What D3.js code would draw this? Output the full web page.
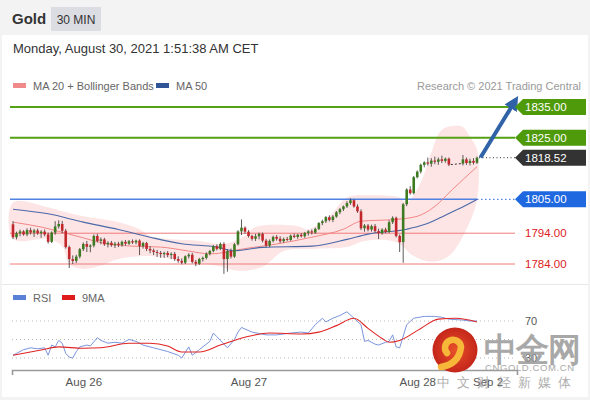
<!DOCTYPE html>
<html>
<head>
<meta charset="utf-8">
<script src="https://cdn.jsdelivr.net/npm/d3@7"></script>
<style>
    body { margin: 0; background: #fff; }
    svg text { font-family: "Liberation Sans", Arial, sans-serif; }
</style>
</head>
<body>
<svg id="chart" width="590" height="400"></svg>
<script>
'use strict';

// half-hour candles [open, high, low, close]; null = no trading
var candles = [
    [1796.9, 1797.9, 1792.1, 1792.7], [1792.7, 1794.5, 1792.0, 1794.0], [1794.0, 1795.2, 1793.0, 1794.6],
    [1794.6, 1795.0, 1793.2, 1793.6], [1793.6, 1795.6, 1793.0, 1795.0], [1795.0, 1795.8, 1793.6, 1794.2],
    [1794.2, 1795.4, 1792.8, 1794.9], [1794.9, 1795.5, 1793.5, 1794.0], [1794.0, 1795.0, 1792.5, 1794.5],
    [1794.5, 1795.2, 1793.0, 1793.6], [1793.6, 1794.2, 1790.6, 1791.2], [1791.2, 1794.6, 1790.8, 1794.2],
    [1794.2, 1797.9, 1793.5, 1796.2], [1796.2, 1798.2, 1795.5, 1797.0], [1797.0, 1798.0, 1794.0, 1794.8],
    [1794.8, 1795.4, 1789.0, 1789.5], [1789.5, 1790.0, 1782.7, 1785.6], [1785.6, 1786.8, 1784.0, 1785.0],
    [1785.0, 1787.0, 1784.3, 1786.4], [1786.4, 1789.2, 1785.8, 1788.8], [1788.8, 1791.0, 1788.2, 1790.5],
    [1790.5, 1791.5, 1787.9, 1789.6], [1789.6, 1790.4, 1787.8, 1790.0], [1790.0, 1793.6, 1789.4, 1793.1],
    [1793.1, 1793.8, 1791.0, 1791.5], [1791.5, 1792.6, 1790.4, 1792.0], [1792.0, 1792.5, 1789.9, 1790.4],
    [1790.4, 1791.4, 1789.4, 1790.9], [1790.9, 1791.5, 1789.6, 1790.1], [1790.1, 1791.2, 1789.2, 1790.6],
    [1790.6, 1791.2, 1789.5, 1790.2], [1790.2, 1791.6, 1789.6, 1791.2], [1791.2, 1791.8, 1790.0, 1790.6],
    [1790.6, 1791.8, 1790.2, 1791.4], [1791.4, 1792.0, 1790.5, 1791.0], [1791.0, 1791.9, 1790.4, 1791.6],
    [1791.6, 1792.0, 1786.9, 1789.8], [1789.8, 1791.2, 1789.0, 1790.8], [1790.8, 1791.2, 1788.2, 1788.9],
    [1788.9, 1789.8, 1787.5, 1788.4], [1788.4, 1789.0, 1786.9, 1787.9], [1787.9, 1788.6, 1786.3, 1787.6],
    [1787.6, 1788.2, 1786.0, 1787.2], [1787.2, 1788.0, 1786.0, 1787.6], [1787.6, 1788.2, 1786.2, 1786.9],
    [1786.9, 1787.8, 1785.6, 1787.3], [1787.3, 1787.9, 1785.0, 1785.6], [1785.6, 1786.5, 1784.4, 1785.0],
    [1785.0, 1785.8, 1783.9, 1784.4], [1784.4, 1786.8, 1784.0, 1786.5], [1786.5, 1787.5, 1785.8, 1787.0],
    [1787.0, 1787.6, 1784.2, 1784.7], [1784.7, 1785.3, 1783.3, 1784.1], [1784.1, 1786.0, 1783.7, 1785.6],
    [1785.6, 1786.4, 1784.8, 1786.0], [1786.0, 1787.8, 1785.5, 1787.3], [1787.3, 1788.6, 1786.8, 1788.2],
    [1788.2, 1790.2, 1787.8, 1789.8], [1789.8, 1790.4, 1788.4, 1788.9], [1788.9, 1791.0, 1788.5, 1790.5],
    [1790.5, 1791.1, 1780.8, 1785.6], [1785.6, 1788.8, 1781.5, 1788.2], [1788.2, 1789.0, 1785.8, 1786.4],
    [1786.4, 1790.8, 1786.0, 1790.4], [1790.4, 1795.0, 1790.0, 1794.6], [1794.6, 1798.5, 1793.4, 1795.8],
    [1795.8, 1796.2, 1793.8, 1794.5], [1794.5, 1795.0, 1792.6, 1793.1], [1793.1, 1793.5, 1791.6, 1792.2],
    [1792.2, 1793.8, 1791.5, 1793.0], [1793.0, 1794.2, 1792.0, 1793.8], [1793.8, 1794.2, 1791.0, 1791.6],
    [1791.6, 1792.2, 1789.4, 1790.0], [1790.0, 1792.0, 1789.5, 1791.5], [1791.5, 1793.2, 1791.0, 1792.8],
    [1792.8, 1793.4, 1791.6, 1792.2], [1792.2, 1793.0, 1790.8, 1791.4], [1791.4, 1792.6, 1790.9, 1792.1],
    [1792.1, 1792.8, 1791.4, 1791.8], [1791.8, 1793.6, 1791.5, 1793.2], [1793.2, 1793.9, 1792.4, 1792.8],
    [1792.8, 1793.8, 1792.2, 1793.5], [1793.5, 1794.0, 1792.6, 1793.0], [1793.0, 1794.4, 1792.5, 1794.1],
    [1794.1, 1795.0, 1793.2, 1794.6], [1794.6, 1795.2, 1793.6, 1794.2], [1794.2, 1795.8, 1793.8, 1795.4],
    [1795.4, 1797.6, 1795.0, 1797.3], [1797.3, 1798.4, 1796.6, 1797.9], [1797.9, 1799.6, 1797.3, 1799.2],
    [1799.2, 1799.8, 1797.8, 1798.3], [1798.3, 1799.9, 1797.6, 1799.4], [1799.4, 1801.2, 1799.0, 1800.8],
    [1800.8, 1802.2, 1800.2, 1801.8], [1801.8, 1803.0, 1801.2, 1802.7], [1802.7, 1804.4, 1802.2, 1803.8],
    [1803.8, 1805.3, 1803.2, 1804.7], [1804.7, 1805.0, 1802.3, 1802.7], [1802.7, 1803.4, 1800.6, 1801.1],
    [1801.1, 1801.8, 1795.0, 1795.6], [1795.6, 1797.0, 1794.5, 1796.5], [1796.5, 1797.0, 1794.6, 1795.2],
    [1795.2, 1796.8, 1794.5, 1796.3], [1796.3, 1797.0, 1794.2, 1794.7], [1794.7, 1795.5, 1792.1, 1794.0],
    [1794.0, 1795.6, 1793.5, 1795.2], [1795.2, 1795.8, 1794.0, 1794.4], [1794.4, 1798.2, 1794.0, 1797.6],
    [1797.6, 1799.5, 1797.0, 1799.0], [1799.0, 1799.4, 1792.6, 1793.1], [1793.1, 1793.6, 1787.9, 1791.1],
    [1791.1, 1803.8, 1784.4, 1803.4], [1803.4, 1808.6, 1802.8, 1808.2], [1808.2, 1809.3, 1806.5, 1807.0],
    [1807.0, 1812.6, 1806.6, 1812.2], [1812.2, 1814.4, 1811.8, 1814.0], [1814.0, 1816.6, 1813.4, 1816.2],
    [1816.2, 1817.4, 1815.4, 1817.0], [1817.0, 1818.6, 1816.0, 1816.6], [1816.6, 1818.4, 1815.6, 1817.6],
    [1817.6, 1818.9, 1816.4, 1817.2], [1817.2, 1818.6, 1816.2, 1818.0], [1818.0, 1819.2, 1816.8, 1817.5],
    [1817.5, 1818.6, 1816.9, 1818.2], [1818.2, 1818.6, 1815.8, 1816.3],
    null, null, null,
    [1816.6, 1819.4, 1816.0, 1818.0], [1818.0, 1818.6, 1816.2, 1816.8], [1816.8, 1818.2, 1816.0, 1817.5],
    [1817.5, 1818.4, 1816.3, 1816.9], [1816.9, 1818.9, 1816.5, 1818.52]
];

// indicator readings [bar index, value]
var ma20 = [[0, 1797.6], [8, 1796.0], [18, 1793.1], [27, 1790.5], [34, 1789.8], [42, 1789.5], [50, 1788.2],
    [56, 1787.3], [61, 1787.9], [64, 1788.6], [75, 1790.5], [85, 1792.7], [94, 1795.3], [99, 1797.9],
    [109, 1798.5], [115, 1799.5], [120, 1802.7], [125, 1808.2], [132, 1815.6]];
var ma50 = [[0, 1801.8], [10, 1800.3], [20, 1797.6], [30, 1795.2], [39, 1792.7], [48, 1790.6], [58, 1789.5],
    [63, 1788.3], [71, 1789.4], [85, 1789.8], [95, 1792.0], [101, 1793.7], [112, 1795.3], [117, 1796.8],
    [122, 1799.3], [127, 1802.0], [132, 1805.0]];
var bbUpper = [[0, 1804.0], [10, 1802.4], [14, 1801.1], [20, 1799.5], [30, 1797.6], [36, 1795.3], [39, 1793.1],
    [44, 1792.1], [53, 1791.5], [59, 1790.5], [62, 1791.1], [66, 1793.1], [69, 1796.0], [81, 1796.3],
    [84, 1795.3], [90, 1799.5], [95, 1805.6], [101, 1806.3], [110, 1805.6], [112, 1804.0], [116, 1810.5],
    [119, 1820.2], [122, 1827.6], [126, 1828.9], [128, 1828.5], [130, 1825.3], [132, 1821.1]];
var bbLower = [[0, 1792.1], [10, 1792.1], [14, 1789.8], [16, 1784.0], [20, 1782.4], [25, 1783.4], [30, 1785.6],
    [39, 1786.6], [48, 1785.0], [58, 1783.4], [64, 1781.8], [71, 1783.1], [77, 1788.2], [85, 1788.9],
    [95, 1789.5], [100, 1791.5], [109, 1791.1], [114, 1786.6], [119, 1784.7], [124, 1786.6], [129, 1795.3],
    [132, 1805.0]];
var rsi = [[0, 33], [1, 35], [3, 39], [5, 41], [7, 40], [9, 41], [10, 33], [11, 44], [12, 42], [13, 49], [14, 46],
    [15, 35], [16, 31], [17, 30], [18, 37], [19, 42], [21, 44], [22, 43], [24, 52], [25, 49], [27, 46], [29, 47],
    [31, 46], [33, 50], [35, 48], [37, 44], [40, 41], [44, 37], [47, 33], [48, 30], [50, 42], [51, 33], [53, 39],
    [56, 48], [57, 57], [58, 53], [59, 49], [61, 41], [63, 50], [64, 58], [65, 63], [68, 58], [72, 55], [75, 55],
    [79, 57], [82, 58], [84, 57], [86, 66], [88, 73], [89, 69], [91, 73], [93, 76], [95, 80], [97, 73], [99, 66],
    [100, 48], [101, 49], [103, 45], [104, 44], [106, 47], [107, 48], [108, 55], [109, 42], [110, 41], [112, 66],
    [114, 73], [117, 75], [120, 75], [122, 74], [124, 72], [128, 71], [130, 70], [132, 70]];
var rsiMa = [[0, 33], [8, 38.6], [13, 42], [20, 40.5], [25, 41], [33, 46], [39, 46], [44, 43], [48, 36.5],
    [53, 36.5], [59, 44], [66, 52.5], [73, 57], [82, 56], [87, 58], [92, 65], [97, 73], [101, 62], [105, 51],
    [107, 47], [110, 49], [116, 62], [121, 72], [126, 73], [132, 69]];

// key levels
var levelValues = [1835, 1825, 1818.52, 1805, 1794, 1784];
var levelKinds = ['target', 'target', 'last', 'pivot', 'support', 'support'];
var rsiLevels = [70, 50, 30];
var rsiLabels = [70, 30];

// x axis
var tickBars = [20, 67, 115, 135];
var tickLabels = ['Aug 26', 'Aug 27', 'Aug 28', 'Sep 2'];

// forecast arrow [bar index, price]
var arrowPts = [[133, 1818.6], [142, 1835.4]];

var svg = d3.select('#chart');

var x = d3.scaleLinear().domain([0, 132]).range([13, 477]);
var y = d3.scaleLinear().domain([1784, 1835]).range([264, 107]);
var yr = d3.scaleLinear().domain([30, 70]).range([358, 321]);

var upCol = '#3d7b22', downCol = '#c3262b';

//frame
svg.append('rect').attr('width', 590).attr('height', 400).attr('fill', '#f3f3f4');
svg.append('rect').attr('x', 2).attr('y', 35).attr('width', 586).attr('height', 362).attr('fill', '#fff');
svg.append('line').attr('x1', 2).attr('x2', 588).attr('y1', 284.5).attr('y2', 284.5)
    .attr('stroke', '#e8e8e8');

//header
svg.append('text').attr('x', 12).attr('y', 24).attr('font-size', 15).attr('font-weight', 'bold')
    .attr('fill', '#333').text('Gold');
svg.append('rect').attr('x', 51).attr('y', 7).attr('width', 50).attr('height', 24).attr('fill', '#dcdde2');
svg.append('text').attr('x', 76).attr('y', 24).attr('text-anchor', 'middle').attr('font-size', 12)
    .attr('fill', '#333').text('30 MIN');
svg.append('text').attr('x', 13).attr('y', 53).attr('font-size', 13).attr('fill', '#333')
    .text('Monday, August 30, 2021 1:51:38 AM CET');

//legends
function legendItem(x0, y0, col, label) {
    svg.append('rect').attr('x', x0).attr('y', y0 - 3).attr('width', 13).attr('height', 5).attr('fill', col);
    svg.append('text').attr('x', x0 + 20).attr('y', y0 + 4).attr('font-size', 11).attr('fill', '#666').text(label);
}
legendItem(13, 86, '#f08a8a', 'MA 20 + Bollinger Bands');
legendItem(156, 86, '#2f5597', 'MA 50');
legendItem(13, 298, '#5b80d8', 'RSI');
legendItem(62, 298, '#e01b1b', '9MA');
svg.append('text').attr('x', 581).attr('y', 90).attr('text-anchor', 'end').attr('font-size', 11)
    .attr('fill', '#9a9a9a').text('Research \u00a9 2021 Trading Central');

//bollinger band as one closed outline
var band = bbUpper.concat(bbLower.slice().reverse());
svg.append('path')
    .attr('d', d3.line().x(function (d) { return x(d[0]); }).y(function (d) { return y(d[1]); })
        .curve(d3.curveCatmullRomClosed.alpha(0.5))(band))
    .attr('fill', '#fde2e2').attr('opacity', 0.9);

//level lines
var levelStyle = {
    target: {stroke: '#55a014', width: 2},
    last: {stroke: 'none', width: 0},
    pivot: {stroke: '#4f82e3', width: 1.5},
    support: {stroke: '#f07a7a', width: 1}
};
levelValues.forEach(function (v, i) {
    var st = levelStyle[levelKinds[i]];
    if (st.stroke === 'none') return;
    svg.append('line').attr('x1', 10).attr('x2', levelKinds[i] === 'pivot' ? x(132) : 515)
        .attr('y1', y(v)).attr('y2', y(v)).attr('stroke', st.stroke).attr('stroke-width', st.width);
    if (levelKinds[i] === 'pivot') {
        svg.append('line').attr('x1', x(132)).attr('x2', 515).attr('y1', y(v)).attr('y2', y(v))
            .attr('stroke', st.stroke).attr('stroke-width', 1.2).attr('stroke-dasharray', '1.5,2.5');
    }
});

//moving averages
function lineGen(sc) {
    return d3.line().x(function (d) { return x(d[0]); }).y(function (d) { return sc(d[1]); });
}
svg.append('path').attr('d', lineGen(y).curve(d3.curveMonotoneX)(ma20))
    .attr('fill', 'none').attr('stroke', '#f07a7a').attr('stroke-width', 0.9);
svg.append('path').attr('d', lineGen(y).curve(d3.curveMonotoneX)(ma50))
    .attr('fill', 'none').attr('stroke', '#4a68a8').attr('stroke-width', 1.1);

//candles
var bars = candles.map(function (c, i) { return c ? {i: i, o: c[0], h: c[1], l: c[2], c: c[3]} : null; })
    .filter(Boolean);
var g = svg.append('g');
g.selectAll('line.wick').data(bars).enter().append('line').attr('class', 'wick')
    .attr('x1', function (d) { return x(d.i); }).attr('x2', function (d) { return x(d.i); })
    .attr('y1', function (d) { return y(d.h); }).attr('y2', function (d) { return y(d.l); })
    .attr('stroke', '#333').attr('stroke-width', 0.8);
g.selectAll('rect').data(bars).enter().append('rect')
    .attr('x', function (d) { return x(d.i) - 1.3; }).attr('width', 2.6)
    .attr('y', function (d) { return y(Math.max(d.o, d.c)); })
    .attr('height', function (d) { return Math.max(0.8, Math.abs(y(d.o) - y(d.c))); })
    .attr('fill', function (d) { return d.c >= d.o ? upCol : downCol; });

//market closed gap
var gapStart = bars.filter(function (d) { return d.i < 125; }).pop();
var gapEnd = bars.filter(function (d) { return d.i > 127; })[0];
svg.append('line').attr('x1', x(gapStart.i) + 2).attr('x2', x(gapEnd.i) - 2)
    .attr('y1', y(gapStart.c)).attr('y2', y(gapEnd.o))
    .attr('stroke', '#333').attr('stroke-dasharray', '2,2');

//last price dotted
var last = bars[bars.length - 1];
svg.append('line').attr('x1', x(last.i) + 2).attr('x2', 515).attr('y1', y(last.c)).attr('y2', y(last.c))
    .attr('stroke', '#333').attr('stroke-dasharray', '1,2.5');

//arrow
svg.append('line').attr('x1', x(arrowPts[0][0])).attr('y1', y(arrowPts[0][1]))
    .attr('x2', x(arrowPts[1][0])).attr('y2', y(arrowPts[1][1]))
    .attr('stroke', '#2f62a6').attr('stroke-width', 4).attr('stroke-linecap', 'butt')
    .attr('marker-end', 'url(#head)');
svg.append('defs').append('marker').attr('id', 'head').attr('viewBox', '0 0 10 10')
    .attr('refX', 2).attr('refY', 5).attr('markerWidth', 3.6).attr('markerHeight', 3.6)
    .attr('orient', 'auto').append('path').attr('d', 'M0,0L10,5L0,10Z').attr('fill', '#2f62a6');

//level tags
var tagFill = {target: '#4f9a0b', last: '#333', pivot: '#1f68e0'};
levelValues.forEach(function (v, i) {
    var k = levelKinds[i], cy = y(v);
    var label = v.toFixed(2);
    if (tagFill[k]) {
        svg.append('path').attr('d', 'M515,' + cy + 'L523,' + (cy - 8) + 'H586V' + (cy + 8) + 'H523Z')
            .attr('fill', tagFill[k]);
        svg.append('text').attr('x', 525).attr('y', cy + 4).attr('font-size', 11.5).attr('fill', '#fff').text(label);
    } else {
        svg.append('text').attr('x', 525).attr('y', cy + 4).attr('font-size', 11.5).attr('fill', '#d22').text(label);
    }
});

//rsi panel
rsiLevels.forEach(function (v) {
    svg.append('line').attr('x1', 12).attr('x2', 515).attr('y1', yr(v)).attr('y2', yr(v))
        .attr('stroke', '#bbb').attr('stroke-dasharray', '1,3');
});
rsiLabels.forEach(function (v) {
    svg.append('text').attr('x', 525).attr('y', yr(v) + 4).attr('font-size', 11).attr('fill', '#555').text(v);
});
svg.append('path').attr('d', lineGen(yr)(rsi))
    .attr('fill', 'none').attr('stroke', '#7b95de').attr('stroke-width', 1);
svg.append('path').attr('d', lineGen(yr).curve(d3.curveMonotoneX)(rsiMa))
    .attr('fill', 'none').attr('stroke', '#e02424').attr('stroke-width', 1.1);

//time axis
var xa = x.copy().domain([x.invert(12), x.invert(517)]).range([12, 517]);
var axis = svg.append('g').attr('transform', 'translate(0,370)')
    .call(d3.axisBottom(xa).tickValues(tickBars).tickSize(0).tickSizeOuter(5)
        .tickFormat(function (d, i) { return tickLabels[i]; }));
axis.select('.domain').attr('stroke', '#9a9a9a').attr('stroke-width', 1.6);
axis.selectAll('text').attr('dy', 0).attr('y', 16).attr('font-size', 11.5).attr('fill', '#555')
    .attr('font-family', '"Liberation Sans", Arial, sans-serif');

//watermark
var wm = svg.append('g');
var grad = svg.select('defs').append('radialGradient').attr('id', 'logo');
grad.append('stop').attr('offset', '0%').attr('stop-color', '#e8502a');
grad.append('stop').attr('offset', '100%').attr('stop-color', '#c4261a');
wm.append('circle').attr('cx', 455).attr('cy', 350).attr('r', 22.5).attr('fill', 'url(#logo)');
wm.append('path').attr('d', 'M447,353 A8,8 0 1,1 461,347 Q459,364 441,367')
    .attr('fill', 'none').attr('stroke', '#f7b83a').attr('stroke-width', 6.5).attr('stroke-linecap', 'round');
wm.append('text').attr('x', 484).attr('y', 361).attr('font-size', 33).attr('font-weight', 'bold')
    .attr('font-family', '"Noto Sans CJK SC"').attr('fill', '#9a9a9a').attr('opacity', 0.85)
    .attr('letter-spacing', -1).text('中金网');
wm.append('text').attr('x', 485).attr('y', 371).attr('font-size', 9.5).attr('fill', '#9a9a9a')
    .attr('opacity', 0.85).attr('letter-spacing', 0.6).text('CNGOLD.COM.CN');
wm.append('text').attr('x', 437).attr('y', 387).attr('font-size', 13)
    .attr('font-family', '"Noto Sans CJK SC"').attr('fill', '#9a9a9a').attr('opacity', 0.8)
    .attr('letter-spacing', 7.2).text('中文财经新媒体');
</script>
</body>
</html>
